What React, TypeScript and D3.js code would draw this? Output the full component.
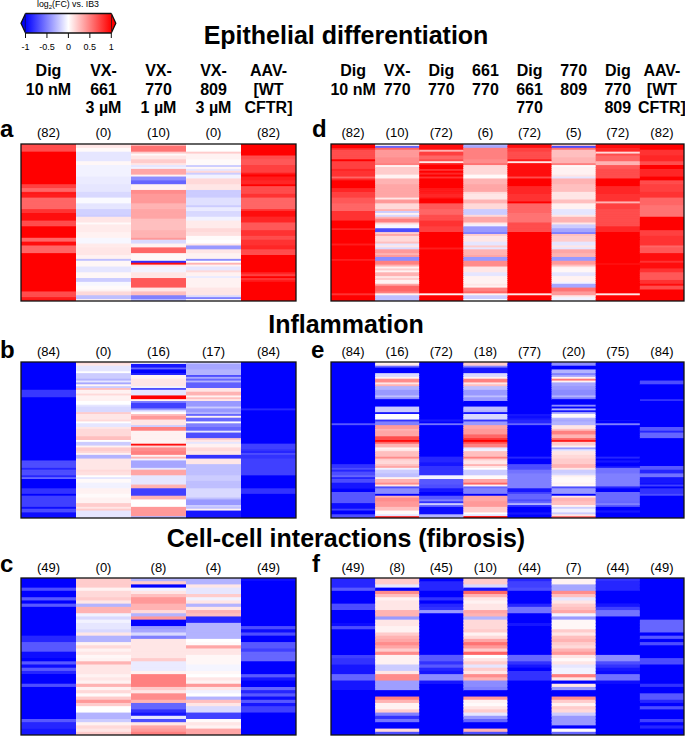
import * as d3 from 'd3';

// heatmap columns: each entry is [last row of the stretch, log2(FC)]
type Run = [number, number];

// a - epithelial differentiation (82 genes)
const a1: Run[] = [[3,.7],[20,1],[22,.75],[24,.6],[27,.9],[33,.6],[35,.8],[39,.95],[42,.7],[48,1],[50,.6],[52,.95],[56,.6],[76,1],[79,.7],[81,.9]];
const a2: Run[] = [[1,.1],[3,.02],[8,-.1],[10,.03],[13,-.05],[16,-.05],[20,-.08],[24,-.1],[27,-.15],[30,-.02],[33,-.1],[36,-.18],[37,-.2],[40,.1],[41,.02],[45,.08],[48,.05],[51,-.03],[53,.08],[57,.1],[59,.05],[60,-.25],[63,.03],[66,-.1],[69,.03],[71,-.2],[73,-.03],[75,.02],[76,.05],[78,.15],[80,-.25],[81,.05]];
const a3: Run[] = [[0,.3],[3,.55],[4,.2],[5,.02],[7,.1],[9,.2],[10,.1],[11,-.1],[12,-.05],[15,.35],[16,.05],[18,-.45],[20,-.6],[23,.05],[25,.45],[30,.4],[33,.3],[38,.35],[44,.25],[48,.3],[49,.4],[51,-.15],[53,.05],[56,.6],[60,.03],[61,-.8],[62,.95],[63,.1],[66,-.05],[69,.1],[74,.65],[76,.1],[78,.25],[80,-.5],[81,-.25]];
const a4: Run[] = [[3,0],[4,.2],[7,.05],[10,.02],[11,-.2],[12,.03],[13,-.1],[14,.15],[15,-.2],[17,-.05],[20,.15],[23,.1],[27,-.2],[31,-.12],[32,-.2],[34,-.08],[37,-.15],[39,-.05],[43,.08],[45,.15],[47,.12],[49,.02],[51,0],[52,.1],[54,-.4],[56,.1],[59,.05],[60,-.45],[61,0],[62,.3],[63,.05],[65,-.1],[66,.15],[68,.05],[69,-.08],[74,.05],[78,.1],[79,-.15],[80,-.5],[81,.02]];
const a5: Run[] = [[5,1],[7,.7],[10,.65],[14,.75],[15,.9],[16,1],[18,.9],[20,.85],[21,1],[25,.7],[27,.8],[33,.6],[34,.8],[37,.95],[40,.85],[44,.65],[47,.8],[49,.7],[52,.8],[54,.85],[57,.7],[66,1],[67,.85],[68,.75],[69,1],[70,.8],[71,.9],[81,1]];

// d - epithelial differentiation, combinations
const d1: Run[] = [[1,1],[2,.85],[7,.7],[8,1],[12,.75],[13,.85],[16,.8],[17,.6],[18,.85],[22,1],[24,.85],[27,.75],[30,.65],[34,.6],[39,.8],[43,1],[44,.85],[51,1],[52,.9],[59,1],[60,.9],[77,1],[78,.8],[81,1]];
const d2: Run[] = [[0,.05],[1,-.6],[2,.6],[6,.4],[9,.45],[10,.5],[11,.05],[15,.2],[17,.05],[20,.3],[27,.35],[28,.1],[30,.4],[33,.15],[34,.3],[35,-.2],[36,.05],[37,-.15],[38,.3],[40,.5],[41,.15],[43,-.03],[45,-.7],[46,.2],[47,.35],[50,.15],[51,.25],[52,-.1],[53,.1],[54,-.15],[56,.4],[57,.3],[58,.4],[60,-.45],[62,.5],[63,.3],[64,.05],[65,.2],[66,.05],[68,.3],[69,.1],[70,.2],[72,.05],[73,.35],[76,.6],[77,.5],[78,.05],[81,-.25]];
const d3c: Run[] = [[2,.95],[3,.3],[5,.75],[7,.6],[8,.7],[9,.1],[10,.9],[12,1],[13,.8],[14,1],[15,.85],[16,1],[17,.8],[22,1],[25,.9],[27,.85],[28,.95],[30,1],[33,.65],[36,.6],[39,.7],[42,.8],[45,.75],[53,1],[54,.9],[77,1],[78,.05],[81,1]];
const d4: Run[] = [[0,-.3],[1,-.35],[7,.5],[9,.45],[10,.55],[15,.15],[17,.02],[20,.3],[24,.35],[25,.15],[28,.1],[30,.3],[33,.15],[36,-.2],[37,.15],[40,.35],[41,.1],[42,-.05],[45,-.4],[46,-.5],[47,.2],[50,.1],[52,-.1],[53,.2],[54,-.1],[57,.3],[58,.35],[60,-.4],[63,.45],[66,.1],[68,-.1],[72,.05],[73,.1],[74,.05],[76,.5],[77,.6],[78,.05],[80,-.2],[81,0]];
const d5: Run[] = [[1,.95],[3,.75],[7,.7],[8,.9],[9,.1],[16,.95],[17,.7],[21,1],[25,.85],[29,.8],[30,1],[35,.6],[40,.55],[45,.7],[77,1],[78,.1],[81,1]];
const d6: Run[] = [[0,.2],[1,-.7],[2,.55],[6,.25],[9,.3],[10,.5],[11,.02],[15,.05],[16,.1],[17,-.1],[20,.3],[24,.25],[28,.1],[30,.25],[33,.05],[36,-.1],[37,.1],[40,.3],[41,.1],[43,-.2],[45,-.35],[46,-.5],[47,.25],[50,.2],[52,-.1],[53,.1],[54,-.1],[56,.35],[58,.3],[60,-.4],[62,.4],[63,.25],[64,.05],[66,.03],[68,-.1],[71,.05],[72,-.05],[74,-.35],[76,.55],[78,.4],[79,.1],[81,-.05]];
const d7: Run[] = [[1,.95],[3,.85],[4,.15],[5,.7],[8,.6],[10,.3],[12,.65],[17,.7],[21,1],[25,.85],[29,.8],[30,.3],[33,.75],[42,.7],[45,.85],[61,1],[62,.95],[77,1],[78,.1],[81,1]];
const d8: Run[] = [[2,1],[5,.8],[8,.85],[10,.7],[12,1],[16,.85],[18,1],[20,.7],[24,.75],[27,.8],[31,.6],[37,.55],[44,1],[47,.75],[52,.8],[53,.6],[56,.65],[60,.95],[61,.8],[64,.95],[66,.8],[70,.65],[72,.8],[73,.95],[75,.7],[81,1]];

// b - inflammation (84 genes)
const b1: Run[] = [[14,-1],[18,-.78],[52,-1],[56,-.7],[57,-.85],[60,-.7],[61,-.85],[62,-.6],[67,-1],[70,-.8],[71,-1],[77,-.75],[78,-.95],[80,-.7],[83,-.95]];
const b2: Run[] = [[0,.15],[1,.1],[4,-.1],[5,0],[8,-.2],[9,-.3],[10,-.1],[11,-.35],[12,.03],[13,-.2],[14,.25],[16,.05],[17,.15],[20,.05],[22,0],[23,-.1],[26,-.15],[27,.2],[30,.1],[31,.15],[32,0],[34,-.1],[35,.1],[39,.15],[41,.25],[42,0],[44,-.2],[45,.05],[47,.2],[48,.15],[49,.05],[51,-.3],[57,.1],[58,.15],[60,.12],[61,0],[62,-.1],[64,.02],[67,-.05],[70,.05],[72,.02],[75,.05],[77,.2],[78,.1],[79,.2],[83,-.1]];
const b3: Run[] = [[0,0],[2,-.9],[3,-.6],[5,-1],[6,-.85],[8,.05],[12,.1],[13,-.05],[14,-.7],[17,-.1],[19,1],[20,.05],[21,-.5],[24,-.75],[25,-.4],[26,-.1],[27,0],[28,.25],[30,.4],[33,.1],[34,-.2],[36,.5],[43,.05],[44,.95],[45,.15],[47,.45],[49,.5],[50,.05],[51,.3],[52,-.05],[56,-.35],[57,-.1],[60,.35],[65,-.1],[67,.3],[71,-.75],[73,.3],[77,0],[82,.4],[83,-.3]];
const b4: Run[] = [[0,-.2],[3,-.35],[6,-.3],[7,-.7],[8,-.35],[9,-.6],[10,-.3],[13,-.62],[15,.1],[17,.3],[18,.05],[19,.25],[20,.1],[23,-.4],[24,-.2],[26,-.4],[27,-.3],[28,-.6],[29,.05],[31,-.6],[32,0],[34,-.5],[36,-.6],[37,-.1],[40,-.7],[41,.2],[42,.1],[43,-.1],[45,.05],[47,.15],[49,.1],[51,-.8],[54,.1],[60,-.25],[63,-.2],[67,-.25],[72,-.15],[73,-.25],[76,-.4],[77,-.2],[78,-.25],[79,.05],[83,-.9]];
const b5: Run[] = [[24,-1],[25,-.85],[43,-1],[46,-.75],[47,-.8],[48,-.85],[49,-.7],[51,-.8],[60,-.75],[67,-1],[70,-.8],[83,-1]];

// e - inflammation, combinations
const e1: Run[] = [[32,-1],[33,-.65],[54,-1],[56,-.8],[57,-.7],[58,-.85],[60,-.7],[61,-.6],[62,-.85],[64,-.7],[67,-.9],[69,-1],[75,-.65],[78,-.95],[79,-.75],[81,-1],[83,-.7]];
const e2: Run[] = [[0,.05],[1,.1],[2,-.6],[5,-1],[7,-.15],[8,.05],[10,.45],[11,.1],[12,.3],[14,-.3],[17,-.4],[18,-.25],[19,-.45],[23,-1],[26,-.2],[27,-.9],[30,0],[31,-.8],[33,-.5],[35,.4],[36,.3],[39,.35],[41,.7],[42,.95],[43,.6],[45,.3],[46,.05],[47,.1],[50,.25],[51,.45],[52,.2],[54,.15],[55,.25],[56,.35],[57,-.05],[59,-.2],[61,-.25],[62,.05],[64,.3],[65,.45],[66,.1],[67,-.7],[70,-.45],[71,-1],[72,.3],[74,.45],[77,.4],[79,.25],[81,.02],[82,-.1],[83,.85]];
const e3: Run[] = [[30,-1],[31,-.9],[32,-1],[33,-.55],[50,-1],[53,-.85],[55,-.9],[60,-.8],[62,-.05],[65,-.65],[67,-.7],[69,-.9],[71,-1],[73,-.65],[74,-.5],[75,-.8],[76,-.2],[77,-.6],[81,-.95],[83,-.3]];
const e4: Run[] = [[1,.2],[2,-.5],[5,-.9],[7,-.15],[8,.05],[10,.5],[11,.1],[12,.25],[14,-.25],[17,-.4],[18,-.25],[20,-.4],[23,-1],[25,-.25],[26,-.3],[27,-.9],[30,-.15],[31,-.8],[33,-.4],[35,.35],[38,.4],[40,.6],[41,.8],[42,1],[43,.7],[45,.5],[46,-.1],[47,-.05],[50,.25],[51,.5],[52,.2],[54,.1],[55,.3],[56,.1],[57,0],[60,-.2],[62,.02],[64,.35],[65,.6],[66,.05],[67,-.6],[70,-.5],[71,-1],[74,.35],[77,.4],[80,.2],[81,0],[82,-.1],[83,1]];
const e5: Run[] = [[27,-1],[28,-.9],[29,-.95],[30,-.9],[32,-.85],[33,-.6],[50,-1],[51,-.85],[54,-1],[57,-.7],[59,-.55],[67,-.5],[69,-.9],[70,-.75],[73,-.6],[74,-.7],[75,-.6],[76,-.3],[77,-.8],[80,-1],[81,-.9],[83,-1]];
const e6: Run[] = [[1,-.45],[3,-1],[5,-.3],[6,-.5],[7,-.35],[8,.05],[9,.55],[10,.05],[12,-.35],[14,-.4],[17,-.45],[18,-.3],[19,-.5],[22,-1],[23,-.45],[24,-1],[25,-.3],[26,-.9],[27,-.3],[29,.02],[30,-.3],[31,-.35],[33,-.3],[35,.1],[36,.25],[38,.5],[40,.3],[41,.6],[42,.9],[44,.2],[45,.05],[46,-.4],[47,-.1],[49,.1],[51,.15],[54,.2],[56,.3],[57,.1],[59,-.2],[60,-.15],[61,.05],[64,.02],[65,.05],[66,.02],[67,-.7],[70,-.4],[71,-1],[72,.1],[74,.3],[76,.25],[77,.05],[78,-.2],[80,-.05],[81,-.2],[82,.1],[83,.6]];
const e7: Run[] = [[30,-1],[31,-.95],[32,-1],[33,-.5],[50,-1],[51,-.85],[52,-1],[53,-.9],[55,-1],[56,-.9],[59,-.55],[66,-.5],[67,-.85],[69,-1],[74,-.58],[75,-.6],[76,-.5],[77,-.65],[79,-1],[80,-.9],[83,-1]];
const e8: Run[] = [[9,-1],[11,-.7],[19,-1],[20,-.8],[34,-1],[36,-.65],[37,-.85],[40,-.6],[55,-1],[57,-.65],[59,-.85],[61,-.55],[64,-.9],[65,-.95],[66,-.75],[67,-1],[70,-.8],[71,-.7],[83,-1]];

// c - cell-cell interactions (49 genes)
const c1: Run[] = [[2,-1],[3,-.7],[5,-1],[6,-.65],[7,-1],[8,-.65],[17,-1],[19,-.85],[22,-.65],[24,-.95],[25,-1],[26,-.65],[27,-.95],[28,-.65],[29,-.85],[32,-1],[33,-.7],[43,-1],[44,-.65],[46,-.85],[48,-.9]];
const c2: Run[] = [[2,.2],[3,.05],[5,.15],[6,.2],[7,.1],[8,-.3],[10,.3],[11,-.05],[12,-.15],[13,-.05],[15,-.1],[16,-.15],[17,.1],[19,-.3],[20,.05],[21,.15],[22,.05],[23,.1],[24,.03],[25,.05],[26,.3],[29,.1],[30,.05],[31,.1],[32,.05],[33,.3],[34,.05],[35,.15],[36,.02],[37,.2],[38,.4],[39,.2],[41,0],[43,-.3],[44,-.2],[45,.05],[46,.15],[47,.1],[48,.2]];
const c3: Run[] = [[0,-.3],[1,.2],[2,-1],[3,-.05],[4,.1],[5,.25],[7,.4],[9,.3],[10,.15],[11,-.3],[12,.4],[14,-1],[15,-.4],[16,-.35],[17,-.15],[18,-.5],[24,.1],[25,.2],[28,-.08],[29,.05],[33,.5],[34,.2],[35,.1],[37,.45],[38,.3],[40,-.6],[41,-.8],[42,-.9],[43,-.1],[44,-.7],[45,.1],[46,.35],[47,.4],[48,.5]];
const c4: Run[] = [[1,-.3],[2,.1],[4,-.1],[5,.2],[6,-.05],[7,.1],[8,-.3],[9,.1],[10,.3],[11,.25],[13,-.85],[18,-.3],[19,0],[20,.02],[21,.35],[23,.1],[26,.03],[28,-.04],[29,.03],[30,0],[31,.1],[32,.05],[33,.4],[34,.1],[35,-.05],[36,0],[37,-.3],[38,.25],[39,.1],[41,-.15],[43,-.75],[44,.02],[45,.1],[46,.05],[48,.35]];
const c5: Run[] = [[0,-.95],[14,-1],[15,-.7],[16,-.95],[17,-.7],[19,-1],[21,-.65],[22,-.75],[25,-.6],[29,-1],[30,-.65],[31,-.9],[33,-1],[34,-.6],[35,-.85],[36,-.65],[37,-.95],[38,-.65],[39,-.9],[41,-.75],[48,-1]];

// f - cell-cell interactions, combinations
const f1: Run[] = [[2,-.85],[3,-.65],[7,-1],[9,-.7],[13,-1],[14,-.95],[15,-.7],[23,-1],[24,-.75],[26,-.8],[29,-.9],[31,-.6],[34,-.9],[48,-1]];
const f2: Run[] = [[1,.2],[2,-.1],[3,-1],[4,.45],[5,.25],[6,.05],[9,.1],[11,.3],[12,-.4],[14,.1],[16,.05],[17,.2],[18,.3],[19,.35],[20,.45],[21,.35],[22,.2],[23,.45],[26,.05],[28,-.2],[29,.1],[31,.45],[34,-.38],[36,-1],[37,.5],[38,.3],[40,.05],[41,.2],[42,-.5],[43,-.8],[44,-.55],[46,-1],[47,.15],[48,-.7]];
const f3: Run[] = [[0,-1],[3,-.85],[5,-1],[6,-.8],[7,-1],[8,-.85],[9,-.8],[10,-.4],[23,-1],[25,-.65],[26,-.8],[27,-.65],[28,-.85],[29,-.9],[31,-.45],[32,-.9],[48,-1]];
const f4: Run[] = [[1,.2],[2,-.15],[3,-.9],[4,.6],[5,.3],[6,.1],[7,.05],[9,.1],[10,.35],[11,.3],[12,-.3],[15,.15],[16,.2],[17,.05],[18,.15],[19,.35],[20,.55],[21,.4],[22,.2],[23,.6],[24,0],[25,.1],[26,.2],[27,-.1],[28,.2],[29,.1],[30,.45],[31,.3],[33,-.45],[34,-.5],[36,-1],[37,.4],[38,.05],[39,.02],[40,.1],[41,.2],[42,-.1],[43,-.4],[44,-.6],[46,-1],[47,.3],[48,-.7]];
const f5: Run[] = [[0,-.85],[2,-.75],[3,-.7],[7,-1],[8,-.85],[10,-.55],[13,-1],[14,-.9],[23,-1],[25,-.6],[26,-.8],[27,-.9],[28,-1],[29,-.8],[31,-.8],[48,-1]];
const f6: Run[] = [[1,.05],[3,-.35],[4,.45],[5,.25],[6,-.1],[7,.1],[8,.2],[9,.25],[10,.35],[11,-.05],[12,-.4],[15,.03],[16,.2],[17,.1],[18,.25],[19,.3],[20,.2],[21,.15],[22,.3],[23,.4],[24,.1],[25,.02],[26,.1],[27,-.1],[29,-.05],[30,.5],[31,.1],[32,-1],[33,.1],[34,-.4],[36,-1],[37,.45],[38,.2],[39,.05],[40,.2],[41,.15],[42,-.2],[45,-.4],[46,-1],[47,.02],[48,-.6]];
const f7: Run[] = [[0,-.8],[3,-.85],[7,-1],[8,-.9],[9,-.75],[11,-.55],[23,-1],[25,-.45],[26,-.7],[27,-.8],[28,-.9],[29,-.95],[31,-.55],[32,-.95],[48,-1]];
const f8: Run[] = [[12,-1],[16,-.6],[17,-1],[18,-.65],[19,-1],[20,-.7],[24,-1],[26,-.7],[32,-1],[33,-.8],[35,-1],[37,-.65],[38,-.85],[39,-1],[40,-.7],[43,-1],[44,-.75],[45,-1],[46,-.85],[48,-1]];

const headersLeft = [['Dig', '10 nM'], ['VX-', '661', '3 µM'], ['VX-', '770', '1 µM'], ['VX-', '809', '3 µM'], ['AAV-', '[WT', 'CFTR]']];
const headersRight = [['Dig', '10 nM'], ['VX-', '770'], ['Dig', '770'], ['661', '770'], ['Dig', '661', '770'], ['770', '809'], ['Dig', '770', '809'], ['AAV-', '[WT', 'CFTR]']];

const countsA = [82, 0, 10, 0, 82];
const countsD = [82, 10, 72, 6, 72, 5, 72, 82];
const countsB = [84, 0, 16, 17, 84];
const countsE = [84, 16, 72, 18, 77, 20, 75, 84];
const countsC = [49, 0, 8, 4, 49];
const countsF = [49, 8, 45, 10, 44, 7, 44, 49];

const cbTicks = [-1, -0.5, 0, 0.5, 1];
const cbTickLabels = ['-1', '-0.5', '0', '0.5', '1'];

const color = d3.scaleLinear<string>().domain([-1, 0, 1]).range(['#0000ff', '#ffffff', '#ff0000']);

const FONT = '"Liberation Sans", Arial, sans-serif';

const valueAt = (runs: Run[], row: number) => {
  const i = d3.bisector((d: Run) => d[0]).left(runs, row);
  return runs[Math.min(i, runs.length - 1)][1];
};

const Heatmap = ({ columns, counts, letter, letterX, letterY, countY, x0, x1, y0, y1, rows }: any) => {
  const xs = d3.scaleBand<number>().domain(d3.range(columns.length)).range([x0, x1]);
  const ys = d3.scaleBand<number>().domain(d3.range(rows)).range([y0, y1]);
  return (
    <g>
      <defs>
        <clipPath id={'clip-' + letter}>
          <rect x={x0} y={y0} width={x1 - x0} height={y1 - y0} />
        </clipPath>
      </defs>
      <text x={letterX} y={letterY} fontSize={24} fontWeight="bold">{letter}</text>
      {counts.map((c: number, i: number) => (
        <text key={i} x={xs(i)! + xs.bandwidth() / 2} y={countY} fontSize={13} textAnchor="middle">({c})</text>
      ))}
      <g clipPath={`url(#clip-${letter})`}>
        <g filter="url(#soft)">
          {columns.map((runs: Run[], i: number) => (
            d3.range(rows).map(r => (
              // 1px overlap so the rows leave no seams; the next row paints over it
              <rect key={i + '-' + r} x={xs(i)} y={ys(r)} width={xs.bandwidth() + (i < columns.length - 1 ? 1 : 0)} height={ys.bandwidth() + 1} fill={color(valueAt(runs, r))} />
            ))
          ))}
        </g>
      </g>
      <rect x={x0} y={y0} width={x1 - x0} height={y1 - y0} fill="none" stroke="#111" strokeWidth={1.3} />
    </g>
  );
};

const Header = ({ labels, x0, x1 }: any) => {
  const xs = d3.scaleBand<number>().domain(d3.range(labels.length)).range([x0, x1]);
  return (
    <g>
      {labels.map((lines: string[], i: number) => lines.map((t, j) => (
        <text key={i + t + j} x={xs(i)! + xs.bandwidth() / 2} y={76 + j * 18.5} fontSize={16} fontWeight="bold" textAnchor="middle">{t}</text>
      )))}
    </g>
  );
};

const ColorBar = () => {
  const sx = d3.scaleLinear().domain([-1, 1]).range([25.5, 111.3]);
  const top = 13.5;
  const bottom = 33;
  const mid = (top + bottom) / 2;
  return (
    <g>
      <defs>
        <linearGradient id="cb" x1="0" x2="1" y1="0" y2="0">
          {cbTicks.map(t => (
            <stop key={t} offset={(t + 1) / 2} stopColor={color(t)} />
          ))}
        </linearGradient>
      </defs>
      <text x={37} y={7} fontSize={8.8}>log<tspan fontSize={6} dy={2}>2</tspan><tspan dy={-2}>(FC) vs. IB3</tspan></text>
      <polygon points={`${sx(-1)},${top} ${sx(-1) - 4.5},${mid} ${sx(-1)},${bottom}`} fill="#0000ff" stroke="#111" strokeWidth={1.3} />
      <polygon points={`${sx(1)},${top} ${sx(1) + 4.5},${mid} ${sx(1)},${bottom}`} fill="#ff0000" stroke="#111" strokeWidth={1.3} />
      <rect x={sx(-1)} y={top} width={sx(1) - sx(-1)} height={bottom - top} fill="url(#cb)" />
      <line x1={sx(-1)} x2={sx(1)} y1={top} y2={top} stroke="#111" strokeWidth={1.3} />
      <line x1={sx(-1)} x2={sx(1)} y1={bottom} y2={bottom} stroke="#111" strokeWidth={1.3} />
      {cbTicks.map((t, i) => (
        <g key={t}>
          <line x1={sx(t)} x2={sx(t)} y1={bottom} y2={bottom + 5} stroke="#111" strokeWidth={1} />
          <text x={sx(t)} y={50} fontSize={9} textAnchor="middle">{cbTickLabels[i]}</text>
        </g>
      ))}
    </g>
  );
};

export default function App() {
  return (
    <svg width={685} height={736} style={{ position: 'absolute', left: 0, top: 0, display: 'block', background: '#fff' }} fontFamily={FONT}>
      <defs>
        <filter id="soft" x="0" y="0" width="1" height="1">
          <feGaussianBlur stdDeviation="0 0.4" />
        </filter>
      </defs>
      <ColorBar />
      <text x={346} y={44} fontSize={25} fontWeight="bold" textAnchor="middle">Epithelial differentiation</text>
      <text x={346} y={333} fontSize={25} fontWeight="bold" textAnchor="middle">Inflammation</text>
      <text x={346} y={547} fontSize={25} fontWeight="bold" textAnchor="middle">Cell-cell interactions (fibrosis)</text>
      <Header labels={headersLeft} x0={21} x1={296} />
      <Header labels={headersRight} x0={331} x1={684} />
      <Heatmap letter="a" letterX={0} letterY={137} countY={137} columns={[a1, a2, a3, a4, a5]} counts={countsA} rows={82} x0={21} x1={296} y0={144} y1={301} />
      <Heatmap letter="d" letterX={312} letterY={137} countY={137} columns={[d1, d2, d3c, d4, d5, d6, d7, d8]} counts={countsD} rows={82} x0={331} x1={684} y0={144} y1={301} />
      <Heatmap letter="b" letterX={0} letterY={358} countY={356} columns={[b1, b2, b3, b4, b5]} counts={countsB} rows={84} x0={21} x1={296} y0={362} y1={518} />
      <Heatmap letter="e" letterX={311} letterY={358} countY={356} columns={[e1, e2, e3, e4, e5, e6, e7, e8]} counts={countsE} rows={84} x0={331} x1={684} y0={362} y1={518} />
      <Heatmap letter="c" letterX={0} letterY={572} countY={572} columns={[c1, c2, c3, c4, c5]} counts={countsC} rows={49} x0={21} x1={296} y0={578} y1={735} />
      <Heatmap letter="f" letterX={312} letterY={572} countY={572} columns={[f1, f2, f3, f4, f5, f6, f7, f8]} counts={countsF} rows={49} x0={331} x1={684} y0={578} y1={735} />
    </svg>
  );
}
